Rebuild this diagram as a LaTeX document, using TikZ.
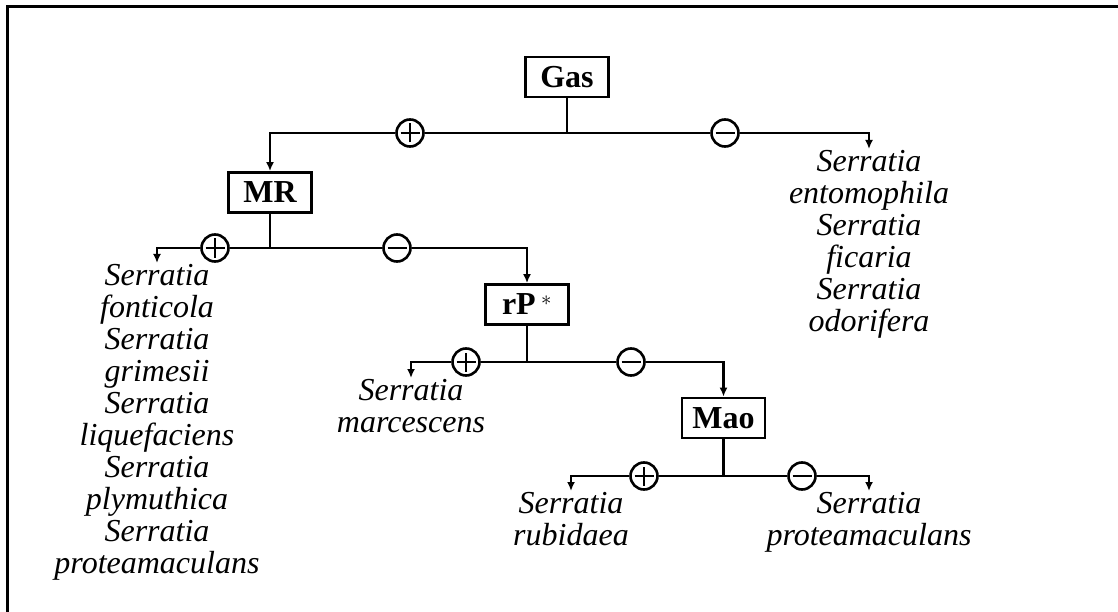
\documentclass[tikz,border=0pt]{standalone}
\usepackage{fontspec}
\setmainfont{Liberation Serif}
\usetikzlibrary{arrows.meta}
\begin{document}
\begin{tikzpicture}[x=1pt,y=-1pt,
  link/.style={draw, line width=2.6pt},
  testbox/.style={draw, line width=2.8pt, minimum width=83pt, minimum height=40pt,
    inner sep=0pt, font=\fontsize{32}{32}\selectfont\bfseries},
  taxa/.style={align=center, inner sep=1pt, anchor=north,
    font=\fontsize{32}{32}\selectfont\itshape},
  sign/.style={circle, draw, fill=white, line width=2.6pt, minimum size=27pt, inner sep=0pt},
  plussign/.style={sign, path picture={
    \draw[line width=2pt] ([xshift=-9.5pt]path picture bounding box.center) -- ([xshift=9.5pt]path picture bounding box.center);
    \draw[line width=2pt] ([yshift=-9.5pt]path picture bounding box.center) -- ([yshift=9.5pt]path picture bounding box.center);}},
  minussign/.style={sign, path picture={
    \draw[line width=2pt] ([xshift=-9.5pt]path picture bounding box.center) -- ([xshift=9.5pt]path picture bounding box.center);}},
  branch/.style={link, -{Latex[length=9pt,width=8pt]}}
]
\useasboundingbox (0,0) rectangle (1118,612);
% outer frame
\draw[line width=3pt] (7,614) -- (7,7) -- (1120,7);

% tests
\node[testbox] (gas) at (567,77) {Gas};
\node[testbox] (mr)  at (270,192.5) {MR};
\node[testbox] (rp)  at (527,304.5) {rP\,$^{\ast}$};
\node[testbox] (mao) at (723.5,418) {Mao};

% junctions below each test
\coordinate (j1) at (567,133);
\coordinate (j2) at (270,248);
\coordinate (j3) at (527,362);
\coordinate (j4) at (723.5,476);

% result markers
\node[plussign] (p1) at (410,133) {};
\node[minussign] (m1) at (725,133) {};
\node[plussign] (p2) at (215,248) {};
\node[minussign] (m2) at (397,248) {};
\node[plussign] (p3) at (466,362) {};
\node[minussign] (m3) at (631,362) {};
\node[plussign] (p4) at (644,476) {};
\node[minussign] (m4) at (802,476) {};

% species groups
\node[taxa] (t1) at (869,149) {Serratia\\entomophila\\Serratia\\ficaria\\Serratia\\odorifera};
\node[taxa] (t2) at (157,263) {Serratia\\fonticola\\Serratia\\grimesii\\Serratia\\liquefaciens\\Serratia\\plymuthica\\Serratia\\proteamaculans};
\node[taxa] (t3) at (411,378) {Serratia\\marcescens};
\node[taxa] (t4) at (571,491) {Serratia\\rubidaea};
\node[taxa] (t5) at (869,491) {Serratia\\proteamaculans};

% Gas
\draw[link] (gas.south) -- (j1);
\draw[link] (j1) -- (p1.east);
\draw[branch] (p1.west) -| (mr.north);
\draw[link] (j1) -- (m1.west);
\draw[branch] (m1.east) -| (t1.north);

% MR
\draw[link] (mr.south) -- (j2);
\draw[link] (j2) -- (p2.east);
\draw[branch] (p2.west) -| (t2.north);
\draw[link] (j2) -- (m2.west);
\draw[branch] (m2.east) -| (rp.north);

% rP*
\draw[link] (rp.south) -- (j3);
\draw[link] (j3) -- (p3.east);
\draw[branch] (p3.west) -| (t3.north);
\draw[link] (j3) -- (m3.west);
\draw[branch] (m3.east) -| (mao.north);

% Mao
\draw[link] (mao.south) -- (j4);
\draw[link] (j4) -- (p4.east);
\draw[branch] (p4.west) -| (t4.north);
\draw[link] (j4) -- (m4.west);
\draw[branch] (m4.east) -| (t5.north);
\end{tikzpicture}
\end{document}
